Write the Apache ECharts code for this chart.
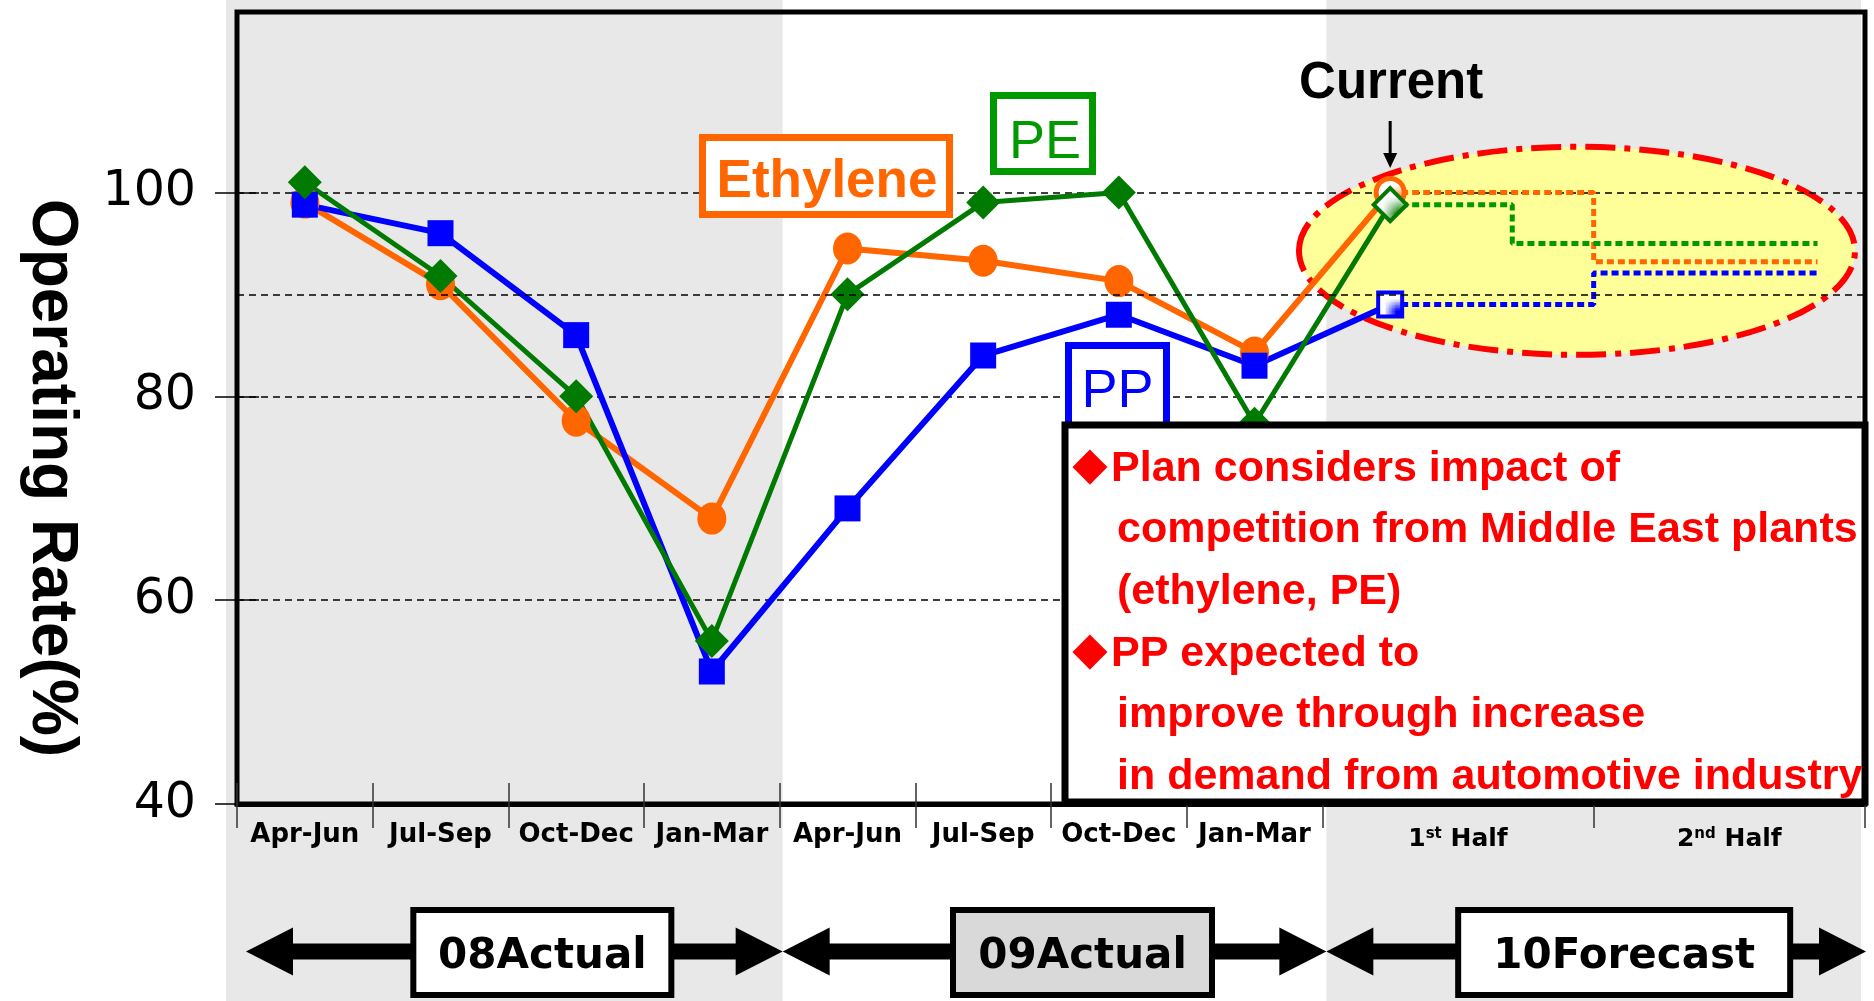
<!DOCTYPE html>
<html>
<head>
<meta charset="utf-8">
<title>Operating Rate</title>
<script src="https://cdn.jsdelivr.net/npm/echarts@6.0.0/dist/echarts.min.js"></script>
<style>
html,body{margin:0;padding:0;background:#ffffff;}
#chart{width:1874px;height:1001px;}
</style>
</head>
<body>
<div id="chart"></div>
<script>
// ---------------- data ----------------
const quarterLabels = ['Apr-Jun','Jul-Sep','Oct-Dec','Jan-Mar','Apr-Jun','Jul-Sep','Oct-Dec','Jan-Mar'];
const halfLabels = ['1st Half','2nd Half'];
const periodLabels = ['08Actual','09Actual','10Forecast'];
const yTickValues = [40, 60, 80, 100];
const referenceLines = [90];
const seriesNames = ['Ethylene','PE','PP'];
// 8 quarters + current point (first quarter of 1st Half)
const ethyleneActual = [99, 91, 77.6, 68, 94.5, 93.3, 91.3, 84.3, 100];
const peActual = [101, 91.8, 80, 56, 90, 99, 100, 77.3, 98.8];
const ppActual = [98.8, 96, 86, 53, 69, 84, 88, 83, 89];
// plan: 1st Half, 2nd Half
const ethylenePlan = [100, 93.2];
const pePlan = [98.8, 95];
const ppPlan = [89, 92.1];
const currentLabel = 'Current';
const noteLines = [
  '◆Plan considers impact of',
  'competition from Middle East plants',
  '(ethylene, PE)',
  '◆PP expected to',
  'improve through increase',
  'in demand from automotive industry'
];

// ---------------- styling / layout ----------------
const ORANGE = '#FF6600', GREEN = '#007A00', BLUE = '#0000FF';
const LABEL_GREEN = '#009900';
const GRID = {left: 237, right: 9, top: 12, bottom: 197};
const Y_MIN = 40, Y_MAX = 117.7, X_MIN = 0, X_MAX = 12;

const xOf = i => i + 0.5;
const labelPos = quarterLabels.map((_, i) => i + 0.5).concat(halfLabels.map((_, j) => 8 + j * 2 + 1));
const allLabels = quarterLabels.concat(halfLabels);
const tickPos = [];
for (let i = 0; i <= 8; i++) tickPos.push(i);
tickPos.push(10, 12);

function dotPattern(color) {
  const c = document.createElement('canvas');
  c.width = 4; c.height = 4;
  const g = c.getContext('2d');
  g.fillStyle = '#ffffff'; g.fillRect(0, 0, 4, 4);
  g.fillStyle = color; g.fillRect(0, 0, 2, 2);
  return {image: c, repeat: 'repeat'};
}

function actualData(vals, special) {
  return vals.map((v, i) => i === vals.length - 1 ? Object.assign({value: [xOf(i), v]}, special) : [xOf(i), v]);
}
function planData(vals, plan, stepX) {
  const x0 = xOf(vals.length - 1);
  return [[x0, plan[0]], [stepX, plan[1]], [11.65, plan[1]]];
}

const chart = echarts.init(document.getElementById('chart'), null, {renderer: 'canvas'});

const tickLine = {color: '#333', width: 1.5};

const option = {
  animation: false,
  backgroundColor: '#ffffff',
  grid: {
    left: GRID.left, right: GRID.right, top: GRID.top, bottom: GRID.bottom,
    show: true, borderColor: '#000', borderWidth: 5, backgroundColor: 'transparent',
    containLabel: false, outerBoundsMode: 'none'
  },
  xAxis: [{
    type: 'value', min: X_MIN, max: X_MAX, position: 'bottom',
    axisLine: {show: true, onZero: false, lineStyle: {color: '#000', width: 5}},
    axisTick: {show: true, customValues: tickPos, length: 24, lineStyle: tickLine},
    splitLine: {show: false},
    axisLabel: {
      show: true, customValues: labelPos, margin: 15, hideOverlap: false,
      formatter: function (v) {
        const k = labelPos.findIndex(p => Math.abs(p - v) < 1e-6);
        if (k < 0) return '';
        const t = allLabels[k];
        const m = t.match(/^(\d)(st|nd|rd|th) (.*)$/);
        if (m) return '{h|' + m[1] + '}{s|' + m[2] + '}{h| ' + m[3] + '}';
        return '{q|' + t + '}';
      },
      rich: {
        q: {fontFamily: 'DejaVu Sans', fontWeight: 'bold', fontSize: 26, color: '#000', lineHeight: 32},
        h: {fontFamily: 'DejaVu Sans', fontWeight: 'bold', fontSize: 25, color: '#000', lineHeight: 40},
        s: {fontFamily: 'DejaVu Sans', fontWeight: 'bold', fontSize: 15, color: '#000', lineHeight: 18,
            verticalAlign: 'middle', padding: [0, 0, 10, 0]}
      }
    }
  }, {
    type: 'value', min: X_MIN, max: X_MAX, position: 'bottom',
    axisLine: {show: false}, axisLabel: {show: false}, splitLine: {show: false},
    axisTick: {show: true, inside: true, customValues: tickPos, length: 21, lineStyle: tickLine}
  }],
  yAxis: [{
    type: 'value', min: Y_MIN, max: Y_MAX, interval: 20, position: 'left',
    axisLine: {show: false},
    axisTick: {show: true, customValues: yTickValues, length: 22, lineStyle: {color: '#000', width: 1.5}},
    axisLabel: {
      show: true, customValues: yTickValues, margin: 41, color: '#000',
      fontFamily: 'DejaVu Sans', fontSize: 49, hideOverlap: false
    },
    splitLine: {show: true, lineStyle: {color: '#000', width: 1.5, type: [7, 5]}},
    name: 'Operating Rate(%)',
    nameLocation: 'middle', nameRotate: -90, nameGap: 154,
    nameTextStyle: {
      fontFamily: 'Liberation Sans', fontWeight: 'bold', fontSize: 64, color: '#000',
      padding: [0, 0, 0, 140]
    }
  }, {
    type: 'value', min: Y_MIN, max: Y_MAX, interval: 20, position: 'left',
    axisLine: {show: false}, axisLabel: {show: false}, splitLine: {show: false},
    axisTick: {show: true, inside: true, customValues: yTickValues, length: 22, lineStyle: {color: '#000', width: 1.5}}
  }],
  series: [
    {
      name: seriesNames[0] + ' plan', type: 'line', step: 'end', symbol: 'none', z: 1.5,
      data: planData(ethyleneActual, ethylenePlan, 10),
      lineStyle: {color: ORANGE, width: 5, type: [7, 4], cap: 'butt'},
      markLine: {
        silent: true, symbol: 'none', label: {show: false},
        lineStyle: {color: '#000', width: 1.5, type: [7, 5]},
        data: referenceLines.map(v => ({yAxis: v}))
      }
    },
    {
      name: seriesNames[1] + ' plan', type: 'line', step: 'end', symbol: 'none', z: 1.5,
      data: planData(peActual, pePlan, 9.4),
      lineStyle: {color: '#009900', width: 5, type: [7, 4], cap: 'butt'}
    },
    {
      name: seriesNames[2] + ' plan', type: 'line', step: 'end', symbol: 'none', z: 1.5,
      data: planData(ppActual, ppPlan, 10),
      lineStyle: {color: BLUE, width: 5, type: [7, 4], cap: 'butt'}
    },
    {
      name: seriesNames[0], type: 'line', symbol: 'circle', symbolSize: [29, 32], showAllSymbol: true,
      data: actualData(ethyleneActual, {symbolSize: 28, itemStyle: {color: dotPattern(ORANGE), borderColor: ORANGE, borderWidth: 5}}),
      lineStyle: {color: ORANGE, width: 6},
      itemStyle: {color: ORANGE}
    },
    {
      name: seriesNames[2], type: 'line', symbol: 'rect', symbolSize: 26, showAllSymbol: true,
      data: actualData(ppActual, {symbolSize: 24, itemStyle: {color: dotPattern(BLUE), borderColor: BLUE, borderWidth: 4}}),
      lineStyle: {color: BLUE, width: 6},
      itemStyle: {color: BLUE}
    },
    {
      name: seriesNames[1], type: 'line', symbol: 'diamond', symbolSize: 34, showAllSymbol: true,
      data: actualData(peActual, {symbolSize: 33, itemStyle: {color: dotPattern(GREEN), borderColor: GREEN, borderWidth: 4}}),
      lineStyle: {color: GREEN, width: 5},
      itemStyle: {color: GREEN}
    }
  ]
};

chart.setOption(option);

function txt(text, x, y, opts) {
  return {
    type: 'text', z: opts.z || 20,
    style: Object.assign({
      text: text, x: x, y: y,
      align: opts.align || 'center', verticalAlign: 'middle',
      textAlign: opts.align || 'center', textVerticalAlign: 'middle'
    }, opts.style)
  };
}

function buildGraphic() {
  const p = (x, y) => chart.convertToPixel({xAxisIndex: 0, yAxisIndex: 0}, [x, y]);
  const X = v => p(v, Y_MIN)[0];
  const b = [0, 4, 8, 12].map(X);
  const els = [];
  const H = 1001;
  const dy = 5; // baseline correction for vertically centred text
  // background period bands
  els.push({type: 'rect', z: -10, shape: {x: b[0] - 11, y: 0, width: b[1] + 3 - (b[0] - 11), height: H}, style: {fill: '#E8E8E8'}});
  els.push({type: 'rect', z: -10, shape: {x: b[2] + 4, y: 0, width: b[3] - 4 - (b[2] + 4), height: H}, style: {fill: '#E8E8E8'}});
  // forecast ellipse
  const c = p(9.877, 94.27);
  els.push({type: 'ellipse', z: -5, shape: {cx: c[0], cy: c[1], rx: 278, ry: 104},
    style: {fill: '#FFFF99', stroke: '#FF0000', lineWidth: 6, lineDash: [30, 9, 6, 9]}});
  // period arrows
  const yc = 951.5, hl = 47, hh = 24, sh = 8;
  const spans = [[b[0] + 9, b[1] + 3], [b[1] + 3, b[2] + 4], [b[2] + 4, b[3] + 1]];
  const boxW = [264, 265, 338];
  const boxFill = ['#ffffff', '#D9D9D9', '#ffffff'];
  spans.forEach(([a, e], k) => {
    els.push({type: 'polygon', z: 20, shape: {points: [
      [a, yc], [a + hl, yc - hh], [a + hl, yc - sh], [e - hl, yc - sh], [e - hl, yc - hh], [e, yc],
      [e - hl, yc + hh], [e - hl, yc + sh], [a + hl, yc + sh], [a + hl, yc + hh]
    ]}, style: {fill: '#000'}});
    const cx = (a + e) / 2 + 28;
    els.push({type: 'rect', z: 21, shape: {x: cx - boxW[k] / 2 + 3, y: 910, width: boxW[k] - 6, height: 85},
      style: {fill: boxFill[k], stroke: '#000', lineWidth: 6}});
    els.push(txt(periodLabels[k], cx, 952 + dy, {z: 22, style: {fill: '#000', fontFamily: 'DejaVu Sans', fontWeight: 'bold', fontSize: 42}}));
  });
  // series name boxes
  els.push({type: 'rect', z: 20, shape: {x: 702.5, y: 137.5, width: 247, height: 77}, style: {fill: '#fff', stroke: ORANGE, lineWidth: 7}});
  els.push(txt(seriesNames[0], 827, 177 + dy, {z: 21, style: {fill: ORANGE, fontFamily: 'Liberation Sans', fontWeight: 'bold', fontSize: 53}}));
  els.push({type: 'rect', z: 20, shape: {x: 993.5, y: 95.5, width: 99, height: 76}, style: {fill: '#fff', stroke: LABEL_GREEN, lineWidth: 7}});
  els.push(txt(seriesNames[1], 1045, 138 + dy, {z: 21, style: {fill: LABEL_GREEN, fontFamily: 'Liberation Sans', fontSize: 54}}));
  els.push({type: 'rect', z: 20, shape: {x: 1068.5, y: 345.5, width: 98, height: 80}, style: {fill: '#fff', stroke: BLUE, lineWidth: 7}});
  els.push(txt(seriesNames[2], 1117.5, 387 + dy, {z: 21, style: {fill: BLUE, fontFamily: 'Liberation Sans', fontSize: 54}}));
  // current marker
  const cur = p(xOf(ethyleneActual.length - 1), 100);
  els.push(txt(currentLabel, cur[0] + 1, 79 + dy, {z: 21, style: {fill: '#000', fontFamily: 'Liberation Sans', fontWeight: 'bold', fontSize: 51}}));
  els.push({type: 'line', z: 21, shape: {x1: cur[0], y1: 121, x2: cur[0], y2: 158}, style: {stroke: '#000', lineWidth: 3}});
  els.push({type: 'polygon', z: 21, shape: {points: [[cur[0] - 7, 153], [cur[0] + 7, 153], [cur[0], 168]]}, style: {fill: '#000'}});
  // note box
  els.push({type: 'rect', z: 30, shape: {x: 1065, y: 425, width: 800, height: 377}, style: {fill: '#fff', stroke: '#000', lineWidth: 7}});
  noteLines.forEach((line, i) => {
    const y = 464 + i * 61.6 + dy;
    if (line.charAt(0) === '◆') {
      els.push(txt('◆', 1090, y - 2, {z: 31, style: {fill: '#FF0000', fontFamily: 'DejaVu Sans', fontSize: 46}}));
      els.push(txt(line.slice(1), 1111, y, {z: 31, align: 'left', style: {fill: '#FF0000', fontFamily: 'Liberation Sans', fontWeight: 'bold', fontSize: 43}}));
    } else {
      els.push(txt(line, 1117, y, {z: 31, align: 'left', style: {fill: '#FF0000', fontFamily: 'Liberation Sans', fontWeight: 'bold', fontSize: 43}}));
    }
  });
  chart.setOption({graphic: {elements: els}});
}
buildGraphic();
</script>
</body>
</html>
